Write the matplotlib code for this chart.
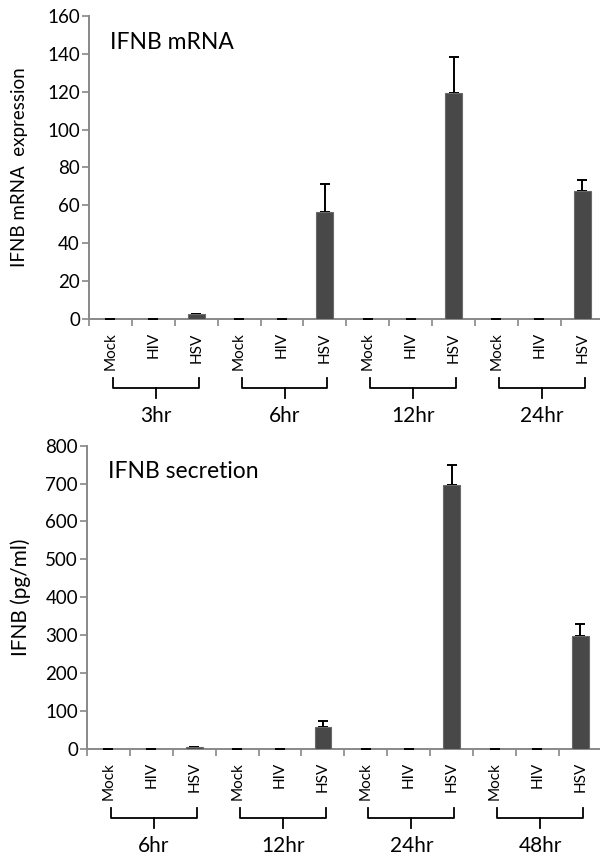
import numpy as np
import matplotlib.pyplot as plt

plt.rcParams['font.family'] = ['Lato', 'DejaVu Sans']

treatments = ["Mock", "HIV", "HSV"]

# top panel: IFNB mRNA
mrna_times = ["3hr", "6hr", "12hr", "24hr"]
mrna_vals = [0, 0, 2.5, 0, 0, 56.5, 0, 0, 119.5, 0, 0, 67.6]
mrna_err = [0, 0, 0, 0, 0, 15, 0, 0, 19, 0, 0, 5.6]

# bottom panel: IFNB secretion
sec_times = ["6hr", "12hr", "24hr", "48hr"]
sec_vals = [0, 0, 5, 0, 0, 58, 0, 0, 697, 0, 0, 297]
sec_err = [0, 0, 0, 0, 0, 15, 0, 0, 52, 0, 0, 32]

AX_GREY = "#888888"
BAR = "#484848"


def panel(ax, vals, err, times, ymax, ystep, title, ylabel, label_x, label_size):
    n = len(vals)
    x = np.arange(n) + 0.5
    ax.bar(x, vals, width=0.39, color=BAR, edgecolor="#6a6a6a", linewidth=0.8, zorder=2)
    # error bars sit behind the bars so only the upper whisker shows
    ax.errorbar(x, vals, yerr=[np.zeros(n), err], fmt="none", ecolor="black",
                elinewidth=1.4, capsize=3.5, capthick=1.4, zorder=1.9)
    ax.set_xlim(0, n)
    ax.set_ylim(0, ymax)
    ax.set_yticks(np.arange(0, ymax + 1, ystep))
    ax.set_xticks(np.arange(n + 1))
    ax.set_xticklabels([])
    ax.set_xticks(x, minor=True)
    ax.set_xticklabels(treatments * len(times), minor=True, rotation=90, fontsize=11)
    ax.tick_params(axis="x", which="minor", length=0, pad=9.5)
    ax.tick_params(axis="x", which="major", length=5, width=1.2, color=AX_GREY)
    ax.tick_params(axis="y", length=5, width=1.2, color=AX_GREY, labelsize=13.5, pad=1.5)
    for s in ["top", "right"]:
        ax.spines[s].set_visible(False)
    for s in ["left", "bottom"]:
        ax.spines[s].set_color(AX_GREY)
        ax.spines[s].set_linewidth(1.4)
        ax.spines[s].set_zorder(1.5)
    ax.text(0.041, 0.914, title, transform=ax.transAxes, fontsize=16.5, va="center", ha="left")
    ax.set_ylabel(ylabel, fontsize=label_size)
    ax.yaxis.set_label_coords(label_x, 0.5)

    # group brackets below labels
    tr = ax.get_xaxis_transform()
    h = 303.0
    y_end = -59 / h
    y_bar = -69 / h
    y_stem = -79.5 / h
    for g, t in enumerate(times):
        x0 = g * 3 + 0.5 + 0.06
        x1 = g * 3 + 2.5 + 0.06
        xm = (x0 + x1) / 2
        ax.plot([x0, x0, x1, x1], [y_end, y_bar, y_bar, y_end], color="black",
                lw=1.3, transform=tr, clip_on=False)
        ax.plot([xm, xm], [y_bar, y_stem], color="black", lw=1.3, transform=tr, clip_on=False)
        ax.text(xm, -97 / h, t, transform=tr, ha="center", va="center", fontsize=15)


fig = plt.figure(figsize=(6, 8.57), dpi=100)
ax1 = fig.add_axes([0.1483, 0.6278, 0.8577, 0.3536])
ax2 = fig.add_axes([0.145, 0.1264, 0.858, 0.3536])

panel(ax1, mrna_vals, mrna_err, mrna_times, 160, 20, "IFNB mRNA", "IFNB mRNA  expression", -0.118, 13.5)
panel(ax2, sec_vals, sec_err, sec_times, 800, 100, "IFNB secretion", "IFNB (pg/ml)", -0.108, 15)

fig.savefig("out.png", dpi=100)
